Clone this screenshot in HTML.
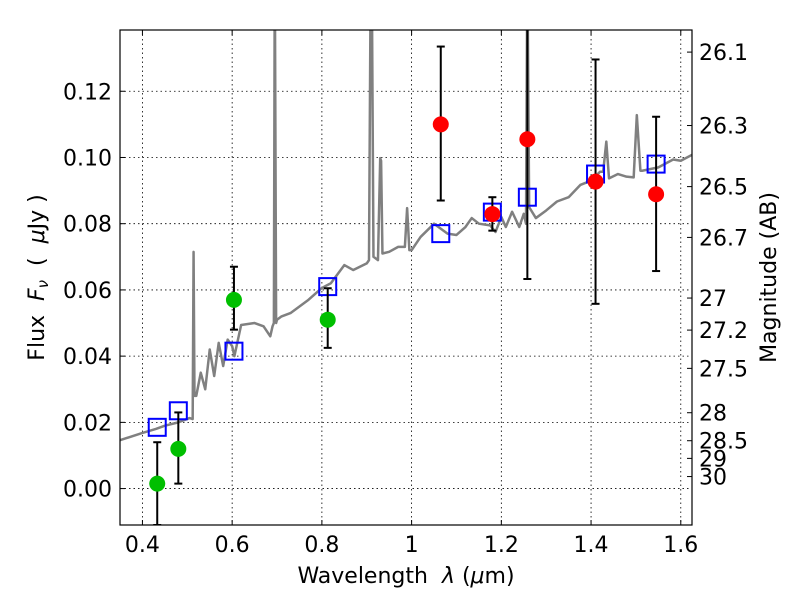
<!DOCTYPE html>
<html><head><meta charset="utf-8"><style>
body{margin:0;background:#fff;}
svg{font-family:"DejaVu Sans","Liberation Sans",sans-serif;}
</style></head><body>
<svg id="c" width="800" height="600"></svg>
<script>
const specLam=[0.35,0.37,0.40,0.43,0.45,0.48,0.505,0.512,0.514,0.516,0.52,0.53,0.54,0.55,0.56,0.57,0.58,0.59,0.60,0.605,0.62,0.65,0.67,0.685,0.69,0.693,0.695,0.698,0.70,0.71,0.73,0.75,0.77,0.8,0.82,0.85,0.87,0.9,0.905,0.909,0.911,0.915,0.925,0.93,0.932,0.935,0.95,0.97,0.985,0.99,0.995,1.0,1.02,1.05,1.08,1.10,1.12,1.134,1.15,1.175,1.187,1.20,1.21,1.224,1.24,1.25,1.255,1.258,1.262,1.277,1.30,1.324,1.35,1.376,1.40,1.42,1.427,1.434,1.44,1.46,1.479,1.495,1.502,1.51,1.514,1.55,1.583,1.60,1.625];
const specFlux=[0.0146,0.0155,0.0168,0.018,0.019,0.020,0.0213,0.021,0.0715,0.028,0.028,0.035,0.030,0.042,0.034,0.044,0.037,0.045,0.043,0.040,0.0494,0.050,0.049,0.046,0.049,0.05,0.16,0.05,0.051,0.052,0.053,0.055,0.057,0.0606,0.062,0.0675,0.066,0.068,0.069,0.16,0.16,0.07,0.069,0.0998,0.099,0.071,0.0715,0.073,0.073,0.0847,0.072,0.072,0.076,0.080,0.077,0.0766,0.079,0.0817,0.080,0.0795,0.0775,0.082,0.079,0.0836,0.079,0.083,0.08,0.16,0.085,0.0817,0.084,0.0867,0.088,0.0917,0.093,0.0957,0.0957,0.1048,0.0937,0.095,0.0942,0.094,0.1128,0.096,0.096,0.097,0.0994,0.099,0.1008];
const blueLam=[0.433,0.48,0.604,0.813,1.065,1.18,1.258,1.41,1.545];
const blueFlux=[0.0185,0.0235,0.0415,0.061,0.077,0.0835,0.088,0.095,0.098];
const greenLam=[0.433,0.48,0.604,0.813];
const greenFlux=[0.0015,0.012,0.057,0.051];
const greenLo=[-0.011,0.0015,0.048,0.0425];
const greenHi=[0.014,0.023,0.067,0.0605];
const redLam=[1.065,1.18,1.258,1.41,1.545];
const redFlux=[0.110,0.0829,0.1055,0.0927,0.0889];
const redLo=[0.087,0.0779,0.0633,0.0558,0.0657];
const redHi=[0.1335,0.088,0.16,0.1296,0.1123];
const xTicks=[0.4,0.6,0.8,1.0,1.2,1.4,1.6];
const xTickLabels=["0.4","0.6","0.8","1","1.2","1.4","1.6"];
const yTicks=[0,0.02,0.04,0.06,0.08,0.10,0.12];
const yTickLabels=["0.00","0.02","0.04","0.06","0.08","0.10","0.12"];
const magTicks=[26.1,26.3,26.5,26.7,27,27.2,27.5,28,28.5,29,30];
const magLabels=["26.1","26.3","26.5","26.7","27","27.2","27.5","28","28.5","29","30"];

const L=120,R=692,T=30,B=525,x0=0.35,x1=1.625,y0=-0.011,y1=0.1385;
const X=v=>L+(v-x0)/(x1-x0)*(R-L);
const Y=v=>B-(v-y0)/(y1-y0)*(B-T);
const svg=document.getElementById('c');
const NS='http://www.w3.org/2000/svg';
function mk(t,a,p){const e=document.createElementNS(NS,t);for(const k in a)e.setAttribute(k,a[k]);(p||svg).appendChild(e);return e;}
const defs=mk('defs',{});const cp=mk('clipPath',{id:'cl'},defs);mk('rect',{x:L,y:T,width:R-L,height:B-T},cp);
let e;
xTicks.forEach((v,i)=>{
  e=mk('line',{x1:X(v),x2:X(v),y1:T,y2:B,stroke:'#000','stroke-width':0.8,'stroke-dasharray':'1.5,3'});
  
  
  mk('line',{x1:X(v),x2:X(v),y1:B,y2:B-5,stroke:'#000'});mk('line',{x1:X(v),x2:X(v),y1:T,y2:T+5,stroke:'#000'});
  e=mk('text',{x:X(v),y:B+27,'text-anchor':'middle','font-size':22});e.textContent=xTickLabels[i];
  
  
});
yTicks.forEach((v,i)=>{
  e=mk('line',{x1:L,x2:R,y1:Y(v),y2:Y(v),stroke:'#000','stroke-width':0.8,'stroke-dasharray':'1.5,3'});
  
  
  mk('line',{x1:L,x2:L+5,y1:Y(v),y2:Y(v),stroke:'#000'});
  e=mk('text',{x:L-8,y:Y(v)+8,'text-anchor':'end','font-size':22});e.textContent=yTickLabels[i];
  
  
});
magTicks.forEach((m,i)=>{
  const f=Math.pow(10,(23.9-m)/2.5);
  mk('line',{x1:R,x2:R-5,y1:Y(f),y2:Y(f),stroke:'#000'});
  e=mk('text',{x:R+7,y:Y(f)+8,'font-size':22});e.textContent=magLabels[i];
  
  
});
const g=mk('g',{'clip-path':'url(#cl)'});
e=mk('polyline',{points:specLam.map((l,i)=>X(l)+','+Y(specFlux[i])).join(' '),fill:'none',stroke:'#808080','stroke-width':2.5,'stroke-linejoin':'round'},g);


function err(l,lo,hi){mk('line',{x1:X(l),x2:X(l),y1:Y(lo),y2:Y(hi),stroke:'#000','stroke-width':2},g);
  [lo,hi].forEach(v=>mk('line',{x1:X(l)-4,x2:X(l)+4,y1:Y(v),y2:Y(v),stroke:'#000','stroke-width':2},g));}
blueLam.forEach((l,i)=>{
  e=mk('rect',{x:X(l)-8.5,y:Y(blueFlux[i])-8.5,width:17,height:17,fill:'none',stroke:'#0000ff','stroke-width':2},g);
  
  
});
greenLam.forEach((l,i)=>{err(l,greenLo[i],greenHi[i]);
  e=mk('circle',{cx:X(l),cy:Y(greenFlux[i]),r:8,fill:'#00bf00'},g);
  
  
});
redLam.forEach((l,i)=>{err(l,redLo[i],redHi[i]);
  e=mk('circle',{cx:X(l),cy:Y(redFlux[i]),r:8,fill:'#ff0000'},g);
  
  
});
e=mk('rect',{x:L,y:T,width:R-L,height:B-T,fill:'none',stroke:'#000','stroke-width':1.2});


e=mk('text',{x:(L+R)/2,y:583,'text-anchor':'middle','font-size':22,'xml:space':'preserve'});
e.innerHTML='Wavelength\u00a0\u00a0<tspan font-style="italic">λ</tspan> (<tspan font-style="italic">μ</tspan>m)';


e=mk('text',{x:0,y:0,'text-anchor':'middle','font-size':22,transform:'translate(44,'+((T+B)/2)+') rotate(-90)'});
e.innerHTML='Flux\u00a0\u00a0<tspan font-style="italic">F</tspan><tspan font-style="italic" font-size="15" dy="4">ν</tspan><tspan dy="-4">\u00a0\u00a0(\u00a0\u00a0</tspan><tspan font-style="italic">μ</tspan>Jy )';


e=mk('text',{x:0,y:0,'text-anchor':'middle','font-size':22,transform:'translate(776,'+((T+B)/2)+') rotate(-90)'});
e.textContent='Magnitude (AB)';


</script>
</body></html>
